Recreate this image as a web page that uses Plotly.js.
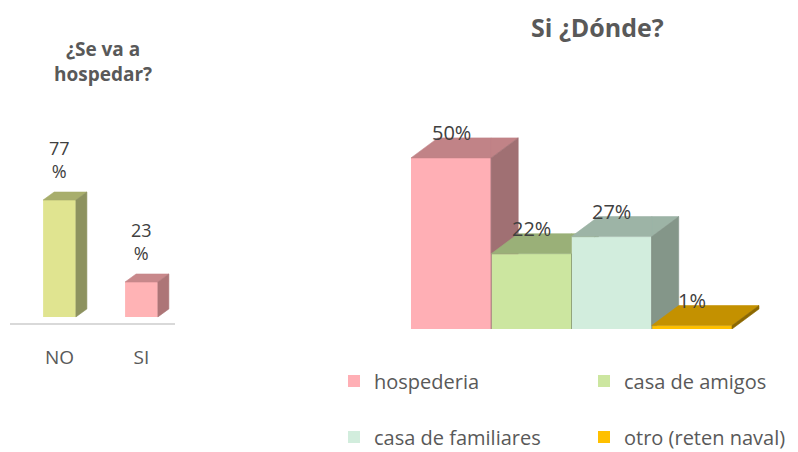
<!DOCTYPE html>
<html><head><meta charset="utf-8">
<script src="https://cdn.plot.ly/plotly-3.0.1.min.js"></script>
<style>html,body{margin:0;padding:0;background:#fff}#chart{width:798px;height:452px}</style>
</head><body><div id="chart"></div>
<script>
// ---- data ----
const stayCategories = ['NO', 'SI'];
const stayValues = [77, 23];
const stayFront = ['#E0E490', '#FFB3B5'];
const stayTop = ['#A8AE6C', '#C8888B'];
const staySide = ['#8D925F', '#AD7577'];

const whereCategories = ['hospederia', 'casa de amigos', 'casa de familiares', 'otro (reten naval)'];
const whereValues = [50, 22, 27, 1];
const whereFront = ['#FFAFB5', '#CCE6A0', '#D2EDDD', '#FFC000'];
const whereTop = ['#C18387', '#9AB078', '#9DB4A6', '#C49100'];
const whereSide = ['#A07073', '#84976A', '#849689', '#8C6800'];

const FONT = '"Open Sans", Lato, sans-serif';
const GREY = '#595959';

// ---- 3D face helpers (computed from the data values) ----
function clip(poly, f) {
  const out = [];
  for (let k = 0; k < poly.length; k++) {
    const a = poly[k], b = poly[(k + 1) % poly.length];
    const fa = f(a), fb = f(b);
    if (fa >= 0) out.push(a);
    if ((fa >= 0) !== (fb >= 0)) {
      const t = fa / (fa - fb);
      out.push([a[0] + t * (b[0] - a[0]), a[1] + t * (b[1] - a[1])]);
    }
  }
  return out;
}
function faceTraces(values, width, dx, dy, topCols, sideCols, xa, ya) {
  const hw = width / 2, traces = [];
  values.forEach((v, i) => {
    const xl = i - hw, xr = i + hw;
    const faces = [
      { poly: [[xl, v], [xr, v], [xr + dx, v + dy], [xl + dx, v + dy]], col: topCols[i] },
      { poly: [[xr, 0], [xr, v], [xr + dx, v + dy], [xr + dx, dy]], col: sideCols[i] }
    ];
    faces.forEach(fc => {
      let pieces = [fc.poly];
      if (i + 1 < values.length) {
        const xn = i + 1 - hw, vn = values[i + 1];
        pieces = [clip(fc.poly, p => xn - p[0]),
                  clip(clip(fc.poly, p => p[0] - xn), p => p[1] - vn)];
      }
      const xs = [], ys = [];
      pieces.filter(p => p.length >= 3).forEach(p => {
        p.forEach(q => { xs.push(q[0]); ys.push(q[1]); });
        xs.push(p[0][0]); ys.push(p[0][1]);
        xs.push(null); ys.push(null);
      });
      traces.push({
        type: 'scatter', mode: 'lines', fill: 'toself', fillcolor: fc.col,
        line: { width: 0.6, color: fc.col }, x: xs, y: ys,
        xaxis: xa, yaxis: ya, hoverinfo: 'skip', showlegend: false
      });
    });
  });
  return traces;
}

const traces = [];
// left chart
traces.push({
  type: 'bar', x: stayCategories.map((c, i) => i), y: stayValues, width: 0.4,
  marker: { color: stayFront, line: { width: 0 } }, xaxis: 'x', yaxis: 'y',
  showlegend: false, hoverinfo: 'skip'
});
traces.push(...faceTraces(stayValues, 0.4, 0.134, 5.27, stayTop, staySide, 'x', 'y'));
// right chart
const legendIds = ['legend', 'legend2', 'legend3', 'legend4'];
whereCategories.forEach((c, i) => {
  traces.push({
    type: 'bar', x: [i], y: [whereValues[i]], width: 1, name: c,
    marker: { color: whereFront[i], line: { width: 0 } },
    xaxis: 'x2', yaxis: 'y2', legend: legendIds[i], hoverinfo: 'skip'
  });
});
traces.push(...faceTraces(whereValues, 1, 0.336, 5.85, whereTop, whereSide, 'x2', 'y2'));

const annotations = [];
stayValues.forEach((v, i) => annotations.push({
  x: i, y: v, xref: 'x', yref: 'y', text: v + '<br>%', showarrow: false,
  xanchor: 'center', yanchor: 'middle', yshift: 41,
  font: { family: FONT, size: 18, color: '#404040' }
}));
whereValues.forEach((v, i) => annotations.push({
  x: i, y: v, xref: 'x2', yref: 'y2', text: v + '%', showarrow: false,
  xanchor: 'center', yanchor: 'middle', yshift: 25,
  font: { family: FONT, size: 20, color: '#404040' }
}));
annotations.push({
  x: 103 / 798, y: 1 - 62 / 452, xref: 'paper', yref: 'paper', showarrow: false,
  xanchor: 'center', yanchor: 'middle',
  text: '¿Se va a<br>hospedar?', font: { family: FONT, size: 19, color: GREY, weight: 700 }
});
annotations.push({
  x: 597 / 798, y: 1 - 27 / 452, xref: 'paper', yref: 'paper', showarrow: false,
  xanchor: 'center', yanchor: 'middle',
  text: 'Si ¿Dónde?', font: { family: FONT, size: 25, color: GREY, weight: 700 }
});

function legendAt(px, py) {
  return {
    x: px / 798, y: 1 - py / 452, xanchor: 'left', yanchor: 'middle',
    bgcolor: 'rgba(0,0,0,0)', borderwidth: 0,
    font: { family: FONT, size: 20, color: GREY }
  };
}

const layout = {
  width: 798, height: 452,
  margin: { l: 0, r: 0, t: 0, b: 0, autoexpand: false },
  paper_bgcolor: '#ffffff', plot_bgcolor: 'rgba(0,0,0,0)',
  barmode: 'overlay',
  showlegend: true,
  font: { family: FONT, color: GREY },
  xaxis: {
    domain: [10 / 798, 175 / 798], range: [-0.604, 1.409],
    tickvals: stayCategories.map((c, i) => i), ticktext: stayCategories,
    showline: true, linecolor: '#D9D9D9', linewidth: 2, showgrid: false, zeroline: false,
    ticks: '', ticklabelstandoff: 16, tickfont: { family: FONT, size: 19, color: GREY },
    fixedrange: true, anchor: 'y'
  },
  yaxis: {
    domain: [1 - 323 / 452, 1 - 100 / 452], range: [-4, 142.9], visible: false,
    fixedrange: true, anchor: 'x'
  },
  xaxis2: {
    domain: [400 / 798, 780 / 798], range: [-0.637, 4.098], visible: false,
    fixedrange: true, anchor: 'y2'
  },
  yaxis2: {
    domain: [1 - 329 / 452, 1 - 110 / 452], range: [0, 64], visible: false,
    fixedrange: true, anchor: 'x2'
  },
  legend: legendAt(334, 381),
  legend2: legendAt(584, 381),
  legend3: legendAt(334, 437),
  legend4: legendAt(584, 437),
  annotations: annotations
};

Plotly.newPlot('chart', traces, layout, { staticPlot: true, displayModeBar: false });
</script>
</body></html>
